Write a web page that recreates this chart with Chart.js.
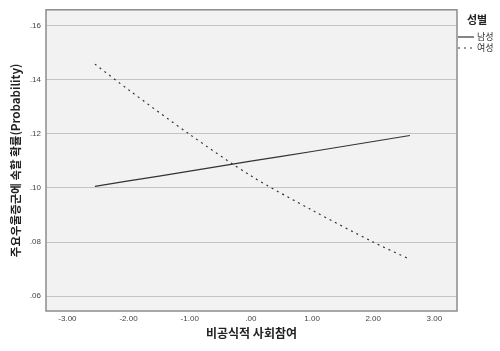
<!DOCTYPE html>
<html>
<head>
<meta charset="utf-8">
<script src="https://cdn.jsdelivr.net/npm/chart.js@4"></script>
<style>
  body { margin: 0; background: #fff; }
  #wrap { width: 500px; height: 351px; }
</style>
</head>
<body>
<div id="wrap"><canvas id="canvas1"></canvas></div>
<script>
// 비공식적 사회참여 (x) 값과 성별별 예측확률
const xValues = [-2.55, -2, -1, 0, 1, 2, 2.6];
const namsung = [0.1006, 0.1026, 0.1062, 0.1099, 0.1135, 0.1172, 0.1194];
const yeosung = [0.1458, 0.1363, 0.1198, 0.1045, 0.0918, 0.0800, 0.0736];
const seriesNames = ['남성', '여성'];
const xTicks = [-3, -2, -1, 0, 1, 2, 3];
const yTicks = [0.06, 0.08, 0.10, 0.12, 0.14, 0.16];

function fmt(v) {
    let s = v.toFixed(2);
    return s.replace(/^(-?)0\./, '$1.');
}

function toPoints(ys) {
    return xValues.map((x, i) => ({ x: x, y: ys[i] }));
}

// 플롯 영역 배경과 테두리
const frame = {
    id: 'frame',
    beforeDraw(chart) {
        const a = chart.chartArea, ctx = chart.ctx;
        ctx.save();
        ctx.fillStyle = '#f2f2f2';
        ctx.fillRect(a.left, a.top, a.right - a.left, a.bottom - a.top);
        ctx.restore();
    },
    afterDraw(chart) {
        const a = chart.chartArea, ctx = chart.ctx;
        ctx.save();
        ctx.strokeStyle = '#8c8c8c';
        ctx.lineWidth = 1.5;
        ctx.strokeRect(a.left, a.top, a.right - a.left, a.bottom - a.top);
        ctx.restore();
    }
};

// 오른쪽 범례 (성별)
const sideLegend = {
    id: 'sideLegend',
    afterDraw(chart) {
        const ctx = chart.ctx;
        const a = chart.chartArea;
        const x0 = a.right + 1;
        ctx.save();
        ctx.fillStyle = '#222';
        ctx.font = 'bold 11px "Noto Sans CJK KR"';
        ctx.textBaseline = 'middle';
        ctx.textAlign = 'left';
        ctx.fillText('성별', x0 + 9, 20);
        ctx.font = '9px "Noto Sans CJK KR"';
        chart.data.datasets.forEach((ds, i) => {
            const y = 37 + i * 11;
            ctx.strokeStyle = '#333';
            ctx.lineWidth = 1.2;
            ctx.setLineDash(ds.borderDash || []);
            ctx.beginPath();
            ctx.moveTo(x0, y);
            ctx.lineTo(x0 + 16, y);
            ctx.stroke();
            ctx.setLineDash([]);
            ctx.fillStyle = '#333';
            ctx.fillText(ds.label, x0 + 19, y);
        });
        ctx.restore();
    }
};

const data = {
    datasets: [
        {
            label: seriesNames[0],
            data: toPoints(namsung),
            borderColor: '#333',
            borderWidth: 1.2,
            pointRadius: 0,
            tension: 0.3
        },
        {
            label: seriesNames[1],
            data: toPoints(yeosung),
            borderColor: '#333',
            borderWidth: 1.2,
            borderDash: [2, 4],
            pointRadius: 0,
            tension: 0.3
        }
    ]
};

const config = {
    type: 'line',
    data: data,
    options: {
        responsive: false,
        animation: false,
        layout: { padding: { top: 8, right: 43, left: 0, bottom: 0 } },
        plugins: {
            legend: { display: false },
            tooltip: { enabled: false }
        },
        scales: {
            x: {
                type: 'linear',
                min: -3.35,
                max: 3.37,
                afterBuildTicks: s => { s.ticks = xTicks.map(v => ({ value: v })); },
                afterFit: s => { s.height = 40; },
                grid: { display: false, drawTicks: false },
                border: { display: false },
                ticks: {
                    padding: 3,
                    maxRotation: 0,
                    color: '#444',
                    font: { family: 'Liberation Sans', size: 8 },
                    callback: v => fmt(v)
                },
                title: {
                    display: true,
                    text: '비공식적 사회참여',
                    color: '#222',
                    font: { family: 'Noto Sans CJK KR', size: 12, weight: 'bold' },
                    padding: { top: 0, bottom: 10 }
                }
            },
            y: {
                min: 0.0545,
                max: 0.1659,
                afterBuildTicks: s => { s.ticks = yTicks.map(v => ({ value: v })); },
                afterFit: s => { s.width = 46; },
                grid: { color: '#c4c4c4', lineWidth: 1, drawTicks: false },
                border: { display: false },
                ticks: {
                    padding: 5,
                    color: '#444',
                    font: { family: 'Liberation Sans', size: 8 },
                    callback: v => fmt(v)
                },
                title: {
                    display: true,
                    text: '주요우울증군에 속할 확률(Probability)',
                    color: '#222',
                    font: { family: 'Noto Sans CJK KR', size: 11.5, weight: 'bold' },
                    padding: { top: 9, bottom: 0 }
                }
            }
        }
    },
    plugins: [frame, sideLegend]
};

const canvas = document.getElementById('canvas1');
canvas.width = 500;
canvas.height = 351;
const chart = new Chart(canvas, config);
</script>
</body>
</html>
